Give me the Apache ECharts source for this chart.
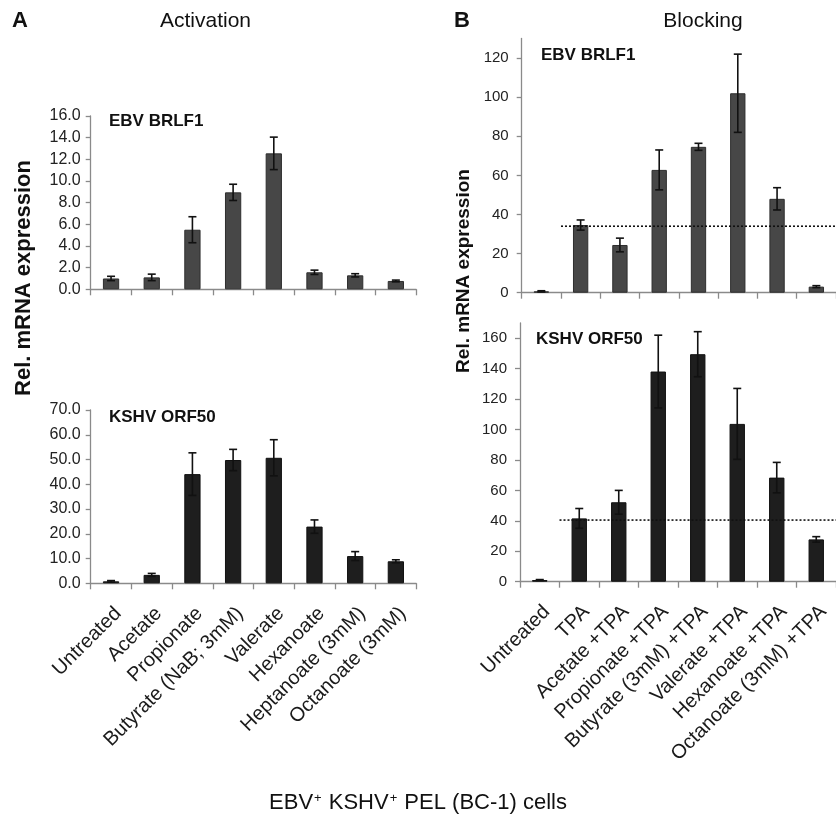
<!DOCTYPE html>
<html>
<head>
<meta charset="utf-8">
<script src="https://cdn.jsdelivr.net/npm/echarts@6/dist/echarts.min.js"></script>
<style>
html,body{margin:0;padding:0;background:#fff;}
#chart{width:836px;height:817px;}
</style>
</head>
<body>
<div id="chart"></div>
<script>
// ---------- data ----------
const categoriesA = ['Untreated','Acetate','Propionate','Butyrate (NaB; 3mM)','Valerate','Hexanoate','Heptanoate (3mM)','Octanoate (3mM)'];
const categoriesB = ['Untreated','TPA','Acetate +TPA','Propionate +TPA','Butyrate (3mM) +TPA','Valerate +TPA','Hexanoate +TPA','Octanoate (3mM) +TPA'];

const actBRLF1    = [1.0, 1.1, 5.5, 8.95, 12.55, 1.57, 1.29, 0.77];
const actBRLF1Err = [0.2, 0.3, 1.2, 0.75, 1.5, 0.2, 0.15, 0.08];
const actORF50    = [0.8, 3.4, 44.1, 49.8, 50.7, 22.9, 11.0, 8.9];
const actORF50Err = [0.3, 0.6, 8.6, 4.3, 7.3, 2.7, 1.8, 0.6];

const blkBRLF1    = [0.7, 34.6, 24.4, 62.8, 74.6, 102.0, 48.0, 3.1];
const blkBRLF1Err = [0.3, 2.6, 3.5, 10.2, 1.8, 20.0, 5.7, 0.5];
const blkORF50    = [1.1, 41.6, 52.2, 138.1, 149.5, 103.7, 68.4, 27.8];
const blkORF50Err = [0.3, 6.5, 7.8, 23.9, 14.8, 23.3, 10.0, 1.8];

const blkRefLine  = [34, 40.5];   // dotted TPA reference levels (BRLF1, ORF50)

const ticksTL = [0, 2, 4, 6, 8, 10, 12, 14, 16];
const ticksBL = [0, 10, 20, 30, 40, 50, 60, 70];
const ticksTR = [0, 20, 40, 60, 80, 100, 120];
const ticksBR = [0, 20, 40, 60, 80, 100, 120, 140, 160];

// ---------- helpers ----------
const FONT = '"Liberation Sans", Arial, Helvetica, sans-serif';
const AXIS_COLOR = '#8a8a8a';
const TEXT_COLOR = '#1a1a1a';

function errData(vals, errs){ return vals.map((v,i)=>[i, v, errs[i]]); }

function errRender(params, api){
  const x = api.value(0), v = api.value(1), e = api.value(2);
  const top = api.coord([x, v + e]);
  const bot = api.coord([x, Math.max(v - e, 0)]);
  const hw = 4;
  const st = {stroke:'#111', lineWidth:1.6};
  return {type:'group', children:[
    {type:'line', shape:{x1:top[0], y1:top[1], x2:bot[0], y2:bot[1]}, style:st},
    {type:'line', shape:{x1:top[0]-hw, y1:top[1], x2:top[0]+hw, y2:top[1]}, style:st},
    {type:'line', shape:{x1:bot[0]-hw, y1:bot[1], x2:bot[0]+hw, y2:bot[1]}, style:st}
  ]};
}

function refRender(params, api){
  const v = api.value(0);
  const cs = params.coordSys;
  const band = api.size([1, 0])[0];
  const p = api.coord([1, v]);
  return {type:'line',
    shape:{x1:p[0]-band/2, y1:p[1], x2:cs.x+cs.width, y2:p[1]},
    style:{stroke:'#111', lineWidth:1.6, lineDash:[2,2]}};
}

function xAxis(gi, cats, showLabels){
  return {
    type:'category', gridIndex:gi, data:cats,
    axisLine:{lineStyle:{color:AXIS_COLOR, width:1.3}},
    axisTick:{show:true, length:6, lineStyle:{color:AXIS_COLOR, width:1.3}},
    axisLabel:{show:showLabels, rotate:45, interval:0, margin:20, align:'right', verticalAlign:'top',
      fontFamily:FONT, fontSize:20, color:TEXT_COLOR}
  };
}
function yAxis(gi, max, interval, ticks, dec){
  return {
    type:'value', gridIndex:gi, min:0, max:max, interval:interval,
    splitLine:{show:false},
    axisLine:{show:true, lineStyle:{color:AXIS_COLOR, width:1.3}},
    axisTick:{show:true, length:5, customValues:ticks, lineStyle:{color:AXIS_COLOR, width:1.3}},
    axisLabel:{customValues:ticks, margin:dec ? 10 : 13, fontFamily:FONT, fontSize:dec ? 16 : 15, color:'#222',
      formatter:(v)=> dec ? Number(v).toFixed(1) : String(v)}
  };
}

const grayBar = {color:'#474747', borderColor:'#2e2e2e', borderWidth:1};
const blackBar = {color:'#1e1e1e', borderColor:'#111', borderWidth:1};

const chart = echarts.init(document.getElementById('chart'), null, {renderer:'canvas'});

const option = {
  animation:false,
  backgroundColor:'#fff',
  grid:[
    {left:90.7, top:116, width:325.5, height:173.3},
    {left:90.7, top:410, width:325.5, height:173.3},
    {left:521.7, top:38.5, width:321.6, height:254.2},
    {left:520, top:323, width:321, height:258.7}
  ],
  xAxis:[
    xAxis(0, categoriesA, false),
    xAxis(1, categoriesA, true),
    xAxis(2, categoriesB, false),
    xAxis(3, categoriesB, true)
  ],
  yAxis:[
    yAxis(0, 16, 2, ticksTL, true),
    yAxis(1, 70, 10, ticksBL, true),
    yAxis(2, 130, 10, ticksTR, false),
    yAxis(3, 170, 10, ticksBR, false)
  ],
  series:[
    {type:'bar', xAxisIndex:0, yAxisIndex:0, data:actBRLF1, barWidth:'40%', itemStyle:grayBar},
    {type:'custom', xAxisIndex:0, yAxisIndex:0, data:errData(actBRLF1, actBRLF1Err), renderItem:errRender, z:5},
    {type:'bar', xAxisIndex:1, yAxisIndex:1, data:actORF50, barWidth:'40%', itemStyle:blackBar},
    {type:'custom', xAxisIndex:1, yAxisIndex:1, data:errData(actORF50, actORF50Err), renderItem:errRender, z:5},
    {type:'bar', xAxisIndex:2, yAxisIndex:2, data:blkBRLF1, barWidth:'39%', itemStyle:grayBar},
    {type:'custom', xAxisIndex:2, yAxisIndex:2, data:errData(blkBRLF1, blkBRLF1Err), renderItem:errRender, z:5},
    {type:'custom', xAxisIndex:2, yAxisIndex:2, data:[[blkRefLine[0]]], renderItem:refRender, z:6, clip:false},
    {type:'bar', xAxisIndex:3, yAxisIndex:3, data:blkORF50, barWidth:'39%', itemStyle:blackBar},
    {type:'custom', xAxisIndex:3, yAxisIndex:3, data:errData(blkORF50, blkORF50Err), renderItem:errRender, z:5},
    {type:'custom', xAxisIndex:3, yAxisIndex:3, data:[[blkRefLine[1]]], renderItem:refRender, z:6, clip:false}
  ],
  graphic:[
    {type:'text', x:12, y:21, style:{text:'A', font:'bold 22px '+FONT, fill:'#111', verticalAlign:'middle'}},
    {type:'text', x:454, y:21, style:{text:'B', font:'bold 22px '+FONT, fill:'#111', verticalAlign:'middle'}},
    {type:'text', x:205.5, y:21, style:{text:'Activation', font:'21px '+FONT, fill:'#111', align:'center', verticalAlign:'middle'}},
    {type:'text', x:703, y:21, style:{text:'Blocking', font:'21px '+FONT, fill:'#111', align:'center', verticalAlign:'middle'}},
    {type:'text', x:109, y:121, style:{text:'EBV BRLF1', font:'bold 17px '+FONT, fill:'#111', verticalAlign:'middle'}},
    {type:'text', x:109, y:417, style:{text:'KSHV ORF50', font:'bold 17px '+FONT, fill:'#111', verticalAlign:'middle'}},
    {type:'text', x:541, y:55, style:{text:'EBV BRLF1', font:'bold 17px '+FONT, fill:'#111', verticalAlign:'middle'}},
    {type:'text', x:536, y:339, style:{text:'KSHV ORF50', font:'bold 17px '+FONT, fill:'#111', verticalAlign:'middle'}},
    {type:'text', x:24, y:278, rotation:Math.PI/2, style:{text:'Rel. mRNA expression', font:'bold 22px '+FONT, fill:'#111', align:'center', verticalAlign:'middle'}},
    {type:'text', x:464, y:271, rotation:Math.PI/2, style:{text:'Rel. mRNA expression', font:'bold 19px '+FONT, fill:'#111', align:'center', verticalAlign:'middle'}},
    {type:'text', x:418, y:803, style:{
      text:'{n|EBV}{s|+}{n| KSHV}{s|+}{n| PEL (BC-1) cells}',
      align:'center', verticalAlign:'middle',
      rich:{
        n:{font:'22px '+FONT, fill:'#111'},
        s:{font:'13px '+FONT, fill:'#111', padding:[0,1,10,1]}
      }}}
  ]
};
chart.setOption(option);
</script>
</body>
</html>
